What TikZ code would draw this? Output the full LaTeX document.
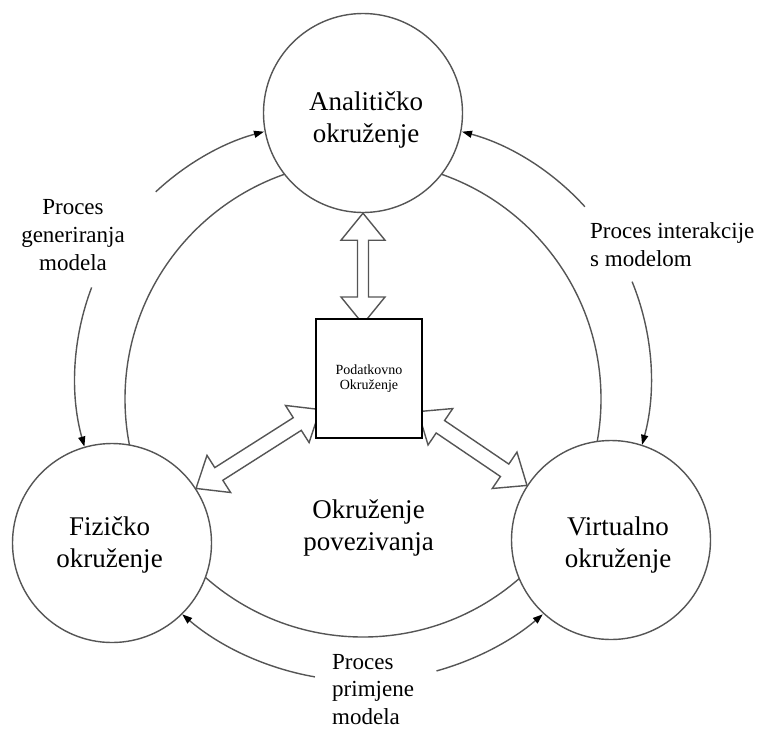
\documentclass[tikz,border=0pt]{standalone}
\usepackage{fontspec}
\setmainfont{Liberation Serif}
\usetikzlibrary{arrows.meta,calc}
\definecolor{ln}{RGB}{85,85,85}
\pgfdeclarelayer{bg}
\pgfsetlayers{bg,main}
\newcommand\DblArr[3]{%
  \coordinate (#1h) at ($(#1)!27pt!(#2)$);
  \coordinate (#2h) at ($(#2)!27pt!(#1)$);
  \draw[dblarr] (#1) -- ($(#1h)!22pt!90:(#2)$) -- ($(#1h)!#3!90:(#2)$)
    -- ($(#2h)!#3!-90:(#1)$) -- ($(#2h)!22pt!-90:(#1)$) -- (#2)
    -- ($(#2h)!22pt!90:(#1)$) -- ($(#2h)!#3!90:(#1)$)
    -- ($(#1h)!#3!-90:(#2)$) -- ($(#1h)!22pt!-90:(#2)$) -- cycle;
}
\begin{document}
\begin{tikzpicture}[x=1pt,y=-1pt,
  env/.style={circle,draw=ln,line width=1.4pt,fill=white,minimum size=199pt,inner sep=0pt},
  big/.style={font=\fontsize{27}{32.5}\selectfont,align=center,inner sep=0pt},
  small/.style={font=\fontsize{23}{27.9}\selectfont,inner sep=0pt},
  dbox/.style={draw=black,line width=2pt,fill=white,minimum width=106pt,minimum height=119pt,inner sep=0pt,align=center,font=\fontsize{14}{15.7}\selectfont},
  conn/.style={draw=ln,line width=1.4pt},
  proc/.style={draw=ln,line width=1.4pt,-{Triangle[length=10pt,width=7pt,color=black,fill=black]}},
  dblarr/.style={draw=ln,line width=1.4pt,fill=white,line join=miter}]
\useasboundingbox (0,0) rectangle (759,731);
% environments
\node[env] (A) at (363,113) {};
\node[env] (F) at (112,543) {};
\node[env] (V) at (611,540) {};
\node[dbox] (D) at (369,378.5) {Podatkovno\\Okruženje};
% background: connecting circle and double arrows
\begin{pgfonlayer}{bg}
  \draw[conn] (363,399) circle[radius=238pt];
  \coordinate (tA) at (A.south);
  \coordinate (tD) at ($(tA |- D.north)+(0,6)$);
  \DblArr{tA}{tD}{5.5pt}
  \coordinate (tF) at (F.33);
  \path (tF) -- (D) coordinate[pos=1] (qL);
  \coordinate (tDL) at ($(qL)!-6pt!(tF)$);
  \DblArr{tF}{tDL}{7.5pt}
  \coordinate (tV) at (V.147);
  \path (tV) -- (D) coordinate[pos=1] (qR);
  \coordinate (tDR) at ($(qR)!-6pt!(tV)$);
  \DblArr{tV}{tDR}{7.5pt}
\end{pgfonlayer}
% labels
\node[big] (At) at (366,119.8) {Analitičko\\okruženje};
\node[big] (Ft) at (109.5,545.2) {Fizičko\\okruženje};
\node[big] (Vt) at (618,544.8) {Virtualno\\okruženje};
\node[big] (Ct) at (368.5,528.2) {Okruženje\\povezivanja};
\node[small,align=center] (Pg) at (73,235.3) {Proces\\generiranja\\modela};
\node[small,align=left,anchor=west] (Pi) at (590,244.2) {Proces interakcije\\s modelom};
\node[small,align=left,anchor=west] (Pp) at (332,689.5) {Proces\\primjene\\modela};
% process arrows
\coordinate (Lc) at (330,378);
\coordinate (Rc) at (396,378);
\coordinate (Bc) at (362.5,404);
\coordinate (g1) at ($(Lc)+(200.8:255)$);
\coordinate (g2) at ($(Lc)+(226.9:255)$);
\coordinate (i1) at ($(Rc)+(-22.2:255)$);
\coordinate (i2) at ($(Rc)+(-42.2:255)$);
\coordinate (p1) at ($(Bc)+(99.9:277)$);
\coordinate (p2) at ($(Bc)+(74.5:277)$);
\draw[proc] (g1) arc[start angle=159.2,end angle=195.6,radius=255pt];
\draw[proc] (g2) arc[start angle=133.1,end angle=105,radius=255pt];
\draw[proc] (i1) arc[start angle=22.2,end angle=-15.2,radius=255pt];
\draw[proc] (i2) arc[start angle=42.2,end angle=75,radius=255pt];
\draw[proc] (p1) arc[start angle=-99.9,end angle=-130.6,radius=277pt];
\draw[proc] (p2) arc[start angle=-74.5,end angle=-49.4,radius=277pt];
\end{tikzpicture}
\end{document}
